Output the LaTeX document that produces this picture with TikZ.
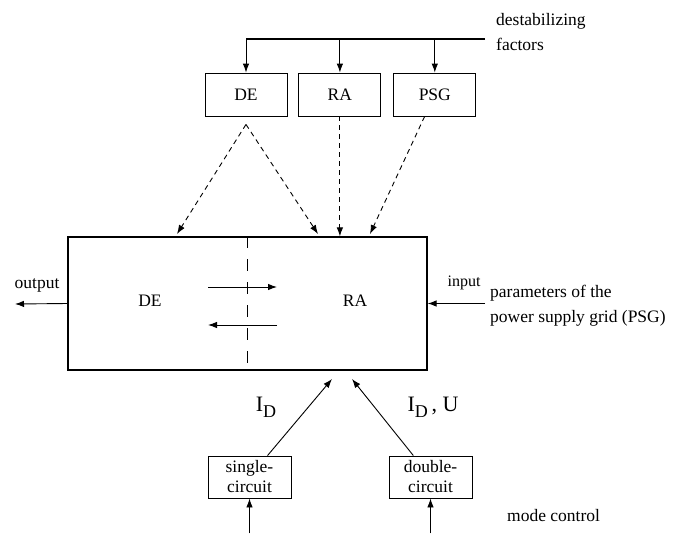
\documentclass[tikz,border=0pt]{standalone}
\usepackage{fontspec}
\setmainfont{Liberation Serif}
\usetikzlibrary{arrows.meta, positioning}

\begin{document}
\begin{tikzpicture}[
				x=1pt, y=-1pt,
				node distance=11pt and 11pt,
				box/.style={rectangle, draw, line width=0.9pt, minimum width=82pt, minimum height=43pt, inner sep=0pt, font=\fontsize{17.5}{19}\selectfont},
				modebox/.style={rectangle, draw, line width=0.9pt, minimum width=83pt, minimum height=42pt, inner sep=0pt, align=center, font=\fontsize{17.5}{20}\selectfont},
				lbl/.style={inner sep=0pt, font=\fontsize{17.5}{25}\selectfont},
				arrow/.style={-{Latex[length=9pt, width=6.5pt]}, line width=0.9pt},
				dasharrow/.style={arrow, dash pattern=on 5pt off 4pt}
				]
				\useasboundingbox (0,0) rectangle (691,533);
				
				% disturbances
				\node[box] (de) at (246,94.5) {DE};
				\node[box, right=of de] (ra) {RA};
				\node[box, right=12pt of ra] (psg) {PSG};
				\node[lbl, align=left, anchor=north west] (dest) at (496,13) {destabilizing\\factors};
				\coordinate (fac) at (485,39);
				\draw[line width=1.1pt] (fac) -- (de |- fac);
				\draw[arrow] (de |- fac) -- (de);
				\draw[arrow] (ra |- fac) -- (ra);
				\draw[arrow] (psg |- fac) -- (psg);
				
				% main system
				\node[draw, line width=1.2pt, minimum width=359pt, minimum height=133pt, inner sep=0pt] (sys) at (247.5,303.5) {};
				\draw[line width=1pt, dash pattern=on 12pt off 11pt] (sys.north) -- (sys.south);
				\node[lbl] (sysde) at (150,301) {DE};
				\node[lbl] (sysra) at (355,301) {RA};
				\coordinate (fl) at (208,287);
				\coordinate (fr) at (277,287);
				\coordinate (bl) at (208,325);
				\coordinate (br) at (277,325);
				\draw[arrow] (fl) -- (fr);
				\draw[arrow] (br) -- (bl);
				
				\coordinate[below=8pt of de] (dsrc);
				\coordinate (t1) at (177,234);
				\coordinate (t2) at (318,234);
				\coordinate (t3) at (370,234);
				\draw[dasharrow] (dsrc) -- (t1);
				\draw[dasharrow] (dsrc) -- (t2);
				\draw[dasharrow] (ra) -- (ra |- sys.north);
				\draw[dasharrow] (psg) -- (t3);
				
				% output / input
				\coordinate (out) at (15,304);
				\draw[arrow] (sys.west) -- (out);
				\node[lbl] (outlbl) at (37,285) {output};
				\coordinate (in) at (485,303.5);
				\draw[arrow] (in) -- (sys.east);
				\node[lbl, font=\fontsize{16}{16}\selectfont] (inlbl) at (464,283) {input};
				\node[lbl, align=left, anchor=west] (psglbl) at (490,306) {parameters of the\\power supply grid (PSG)};
				
				% mode control
				\node[modebox] (single) at (249.5,477) {single-\\circuit};
				\node[modebox] (double) at (430.5,477) {double-\\circuit};
				\coordinate (c1) at (332,379);
				\coordinate (c2) at (352,379);
				\draw[arrow] (single) -- (c1);
				\draw[arrow] (double) -- (c2);
				\node[lbl, font=\fontsize{22}{22}\selectfont] (id1) at (266,407) {I\raisebox{-6pt}{\fontsize{18}{18}\selectfont D}};
				\node[lbl, font=\fontsize{22}{22}\selectfont] (id2) at (433,407) {I\raisebox{-6pt}{\fontsize{18}{18}\selectfont D}\,, U};
				\coordinate[below=35pt of single] (m1);
				\coordinate[below=35pt of double] (m2);
				\draw[arrow] (m1) -- (single);
				\draw[arrow] (m2) -- (double);
				\node[lbl, anchor=west] (modelbl) at (507,516) {mode control};
			\end{tikzpicture}
\end{document}
